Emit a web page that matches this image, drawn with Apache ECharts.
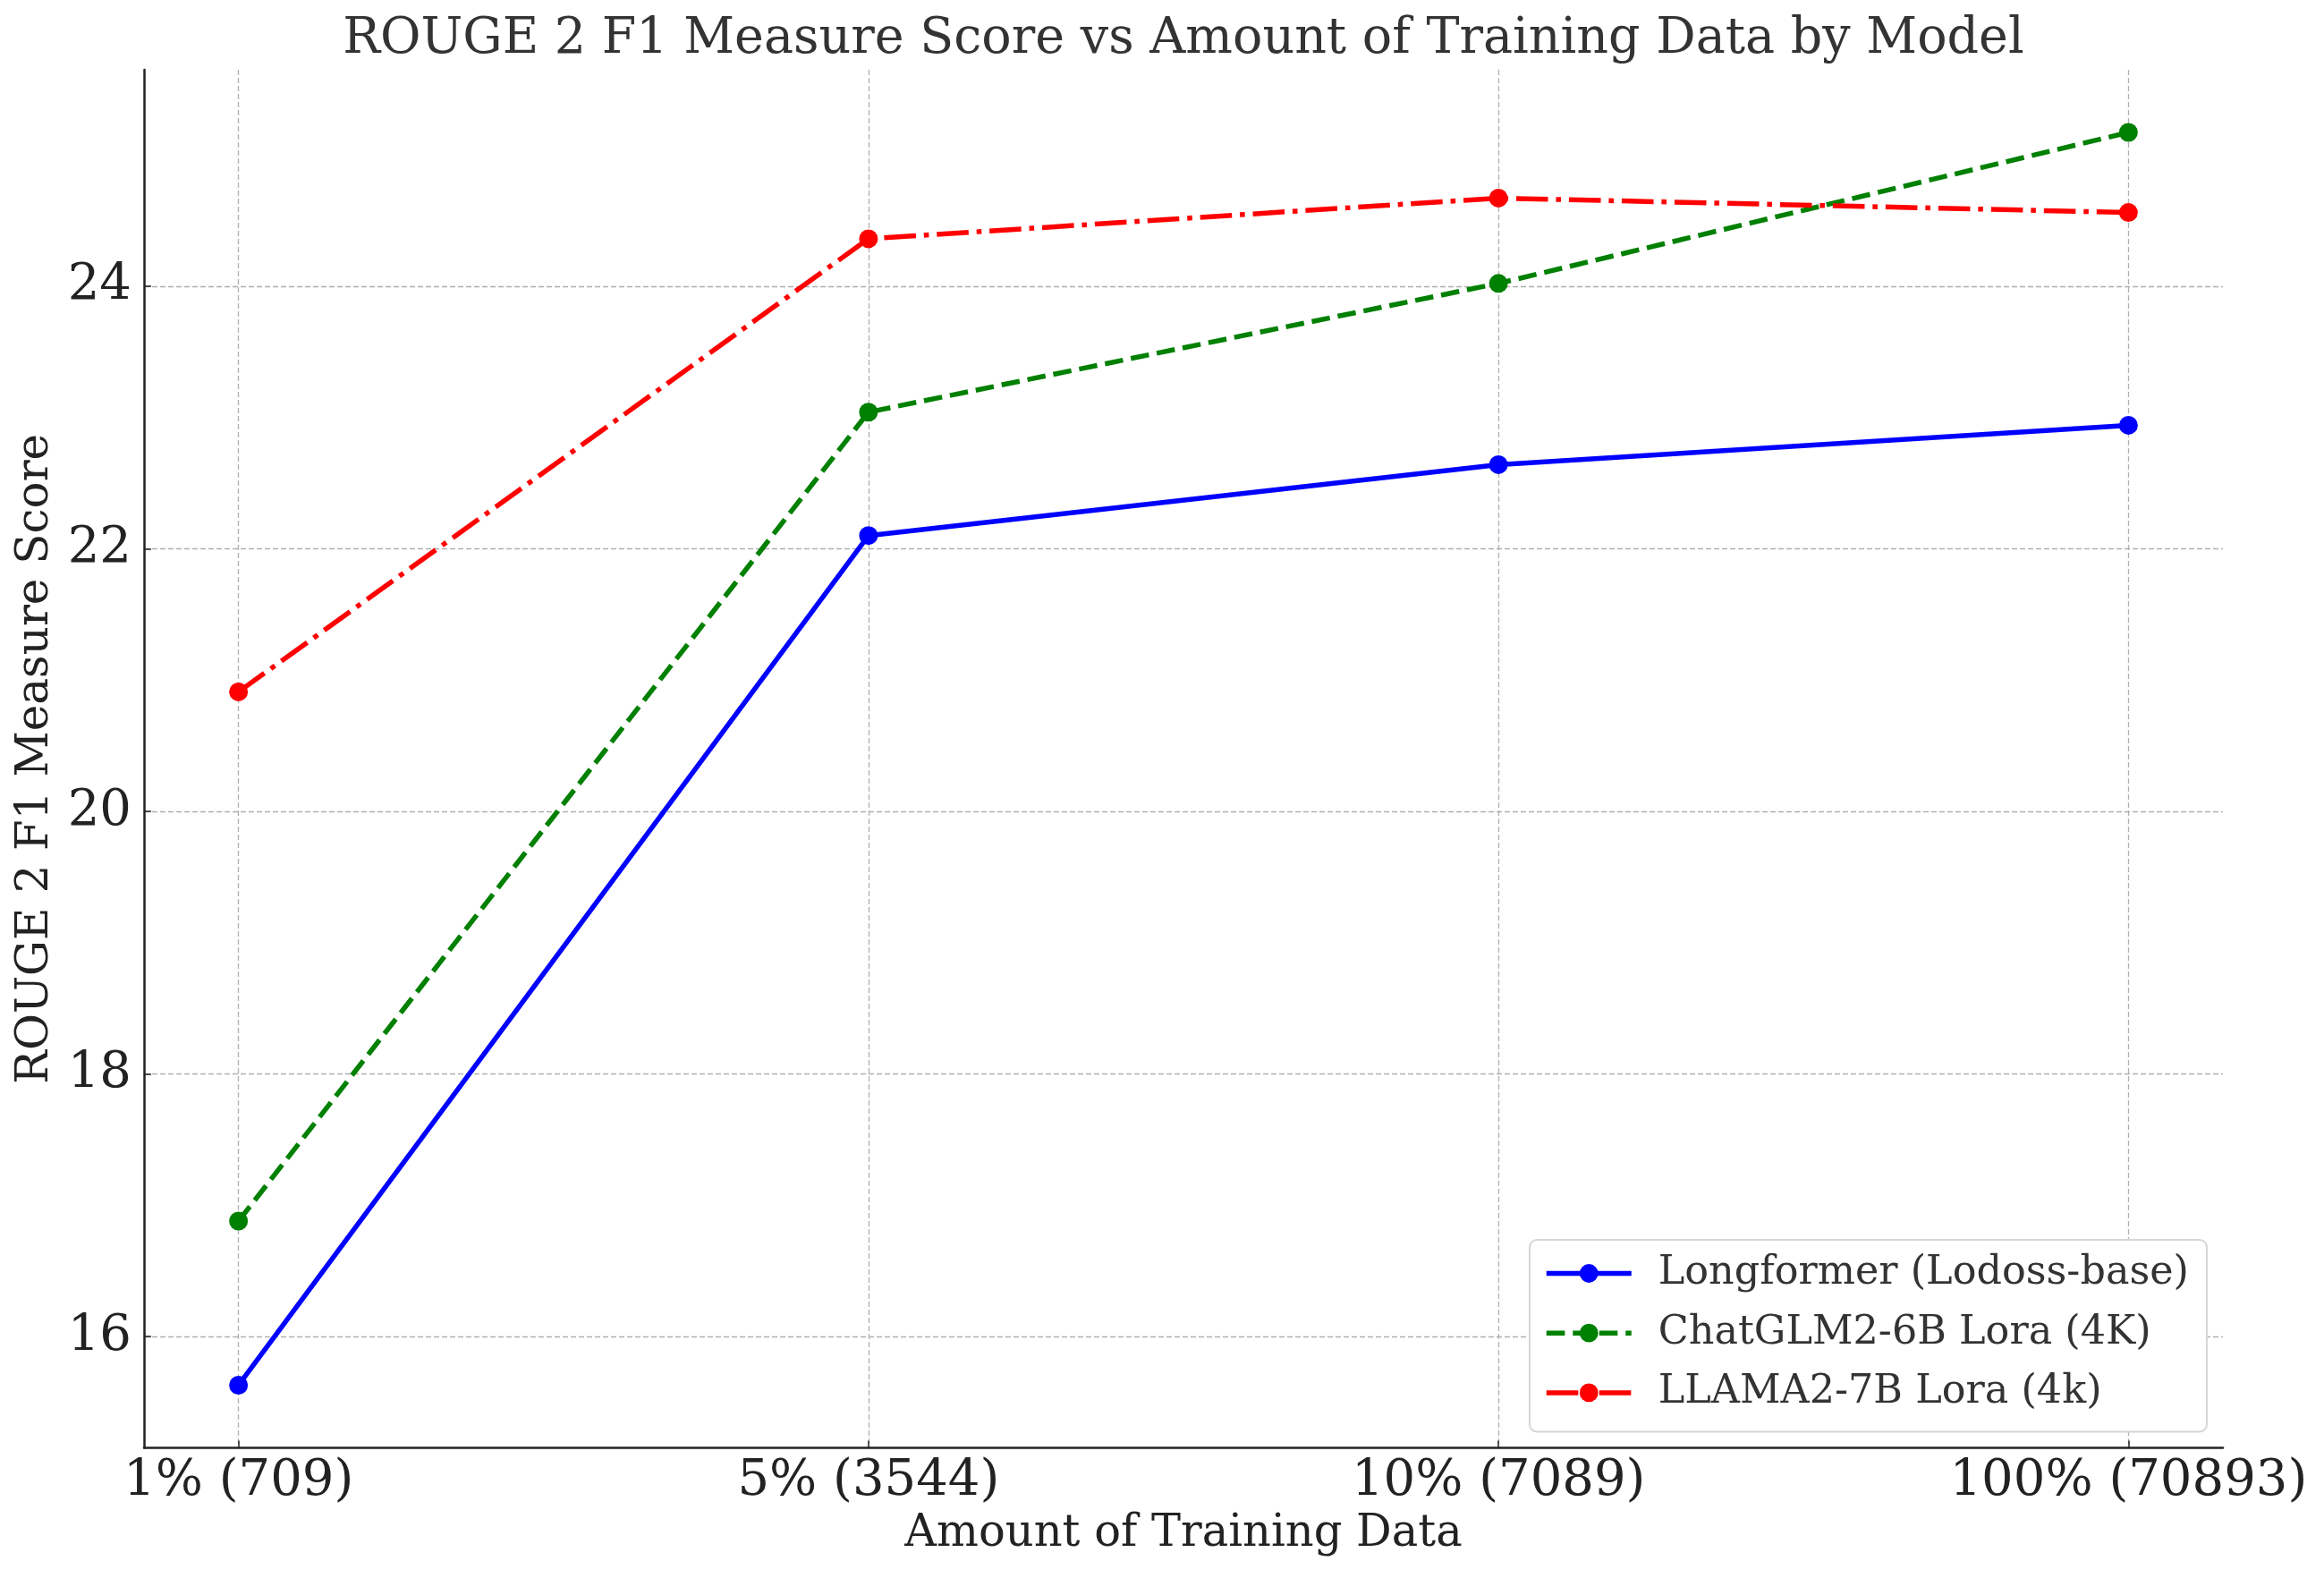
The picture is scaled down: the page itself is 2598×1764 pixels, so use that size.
<!DOCTYPE html>
<html><head><meta charset="utf-8">
<script src="https://cdn.jsdelivr.net/npm/echarts@6/dist/echarts.min.js"></script>
<style>html,body{margin:0;padding:0;background:#fff}#c{width:2598px;height:1764px}</style>
</head><body><div id="c"></div>
<script>
const categories = ['1% (709)', '5% (3544)', '10% (7089)', '100% (70893)'];
const seriesNames = ['Longformer (Lodoss-base)', 'ChatGLM2-6B Lora (4K)', 'LLAMA2-7B Lora (4k)'];
const longformer = [15.63, 22.10, 22.64, 22.94];
const chatglm = [16.88, 23.04, 24.02, 25.17];
const llama = [20.91, 24.36, 24.67, 24.56];
const yTicks = [16, 18, 20, 22, 24];
const xTicks = [0, 1, 2, 3];

const FONT = 'DejaVu Serif';
const all = longformer.concat(chatglm, llama);
const dMin = Math.min(...all), dMax = Math.max(...all);
const pad = (dMax - dMin) * 0.05;
const xPad = (xTicks.length - 1) * 0.05;

function pts(arr) { return arr.map((v, i) => [i, v]); }

const gridLine = { show: true, lineStyle: { color: '#b0b0b0', width: 1.3, type: [6, 3] } };
const styles = [
  { color: '#0000ff', type: 'solid' },
  { color: '#008000', type: [20.6, 8.9] },
  { color: '#ff0000', type: [35.6, 8.9, 5.6, 8.9] }
];
const dataSets = [longformer, chatglm, llama];

const chart = echarts.init(document.getElementById('c'), null, { renderer: 'canvas' });
chart.setOption({
  backgroundColor: '#ffffff',
  animation: false,
  title: {
    text: 'ROUGE 2 F1 Measure Score vs Amount of Training Data by Model',
    left: 1318, top: 12, textAlign: 'center',
    textStyle: { fontFamily: FONT, fontSize: 55.5, fontWeight: 'normal', color: '#333333' }
  },
  grid: { left: 161, right: 113, top: 78, bottom: 145.5, containLabel: false },
  legend: {
    orient: 'vertical', left: 1710, top: 1386,
    padding: [15, 20, 21, 16],
    itemWidth: 95, itemHeight: 26, itemGap: 21.7,
    backgroundColor: '#ffffff', borderColor: '#d6d6d6', borderWidth: 2, borderRadius: 8,
    lineStyle: { width: 5.5 },
    textStyle: { fontFamily: FONT, fontSize: 44.5, color: '#333333', lineHeight: 44, padding: [0, 0, 0, 25] },
    data: seriesNames
  },
  xAxis: {
    type: 'value', min: xTicks[0] - xPad, max: xTicks[xTicks.length - 1] + xPad,
    name: 'Amount of Training Data', nameLocation: 'middle', nameGap: 72,
    nameTextStyle: { fontFamily: FONT, fontSize: 49.5, color: '#222222' },
    axisLine: { show: true, onZero: false, lineStyle: { color: '#222222', width: 2.5 } },
    axisTick: { show: true, inside: true, length: 8, customValues: xTicks, lineStyle: { color: '#222222', width: 1.5 } },
    axisLabel: { customValues: xTicks, margin: 10, fontFamily: FONT, fontSize: 56, color: '#222222',
      formatter: v => categories[Math.round(v)] },
    splitLine: gridLine
  },
  yAxis: {
    type: 'value', min: dMin - pad, max: dMax + pad,
    name: 'ROUGE 2 F1 Measure Score', nameLocation: 'middle', nameGap: 95, nameRotate: 90,
    nameTextStyle: { fontFamily: FONT, fontSize: 50, color: '#222222' },
    axisLine: { show: true, onZero: false, lineStyle: { color: '#222222', width: 2.5 } },
    axisTick: { show: true, inside: true, length: 8, customValues: yTicks, lineStyle: { color: '#222222', width: 1.5 } },
    axisLabel: { customValues: yTicks, margin: 14, fontFamily: FONT, fontSize: 56, color: '#222222' },
    splitLine: gridLine
  },
  series: seriesNames.map((n, k) => ({
    name: n, type: 'line', data: pts(dataSets[k]),
    symbol: 'circle', symbolSize: 21, showSymbol: true,
    lineStyle: { color: styles[k].color, width: 5.5, type: styles[k].type },
    itemStyle: { color: styles[k].color, borderWidth: 0 },
    z: 3 + k
  }))
});
</script></body></html>
